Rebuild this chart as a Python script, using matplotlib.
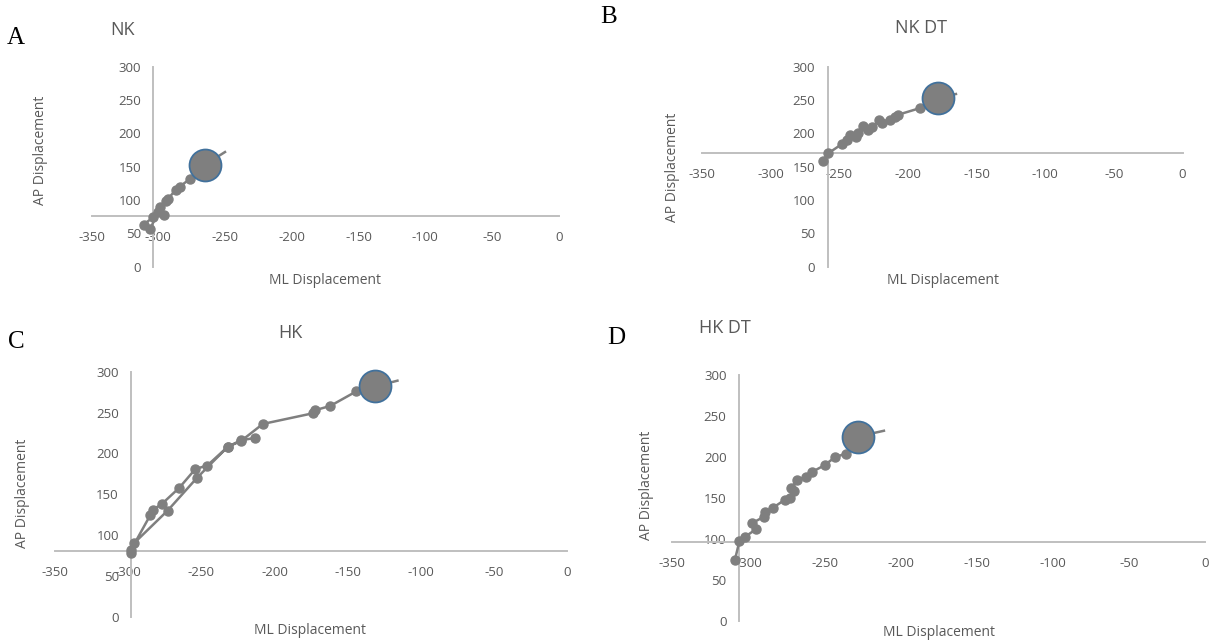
import matplotlib
matplotlib.use("Agg")
import matplotlib.pyplot as plt

plt.rcParams['font.family'] = ['Open Sans', 'DejaVu Sans']
plt.rcParams['axes.unicode_minus'] = False

# ---- data: ML / AP displacement traces
# big circle = second to last point, last point = end of the trace line
nk_ml = [-304, -311, -306, -300, -296, -299, -294, -293, -287, -284, -276, -265, -250]
nk_ap = [74, 63, 57, 82, 78, 90, 98, 101, 115, 120, 132, 153, 172]

nkdt_ml = [-262, -258, -248, -244, -242, -238, -236, -233, -229, -226, -221, -219,
           -213, -209, -207, -191, -178, -165]
nkdt_ap = [159, 170, 184, 190, 198, 195, 200, 211, 205, 209, 220, 215,
           220, 224, 228, 238, 253, 259]

hk_ml = [-213, -223, -232, -253, -273, -296, -298, -298, -285, -283, -277, -265,
         -254, -246, -232, -223, -208, -174, -172, -162, -144, -131, -116]
hk_ap = [219, 216, 208, 170, 130, 90, 78, 82, 124, 131, 138, 158,
         181, 185, 208, 215, 236, 249, 253, 258, 276, 282, 289]

hkdt_ml = [-309, -306, -302, -295, -298, -290, -289, -284, -276, -273, -270, -272,
           -268, -262, -258, -250, -243, -236, -228, -211]
hkdt_ap = [74, 97, 103, 112, 119, 127, 133, 138, 148, 150, 158, 162,
           172, 176, 182, 190, 200, 204, 225, 232]

x_ticks = [-350, -300, -250, -200, -150, -100, -50, 0]
y_ticks = [0, 50, 100, 150, 200, 250, 300]

W, H = 1214, 643
fig = plt.figure(figsize=(W / 100, H / 100), dpi=100)

def px(x, y):
    return x / W, 1 - y / H

# panel: letter, title, data, axes box in pixels (x0, x1, ytop, ybot),
# axis crossing (ml, ap), text positions in pixels
panels = [
    ("A", "NK", nk_ml, nk_ap, (91.5, 558.7, 66.7, 266.7), (-303.6, 76.5),
     (16, 38), (122, 30), (41, 150), (325, 280)),
    ("B", "NK DT", nkdt_ml, nkdt_ap, (701.8, 1182.6, 66.7, 266.7), (-258.4, 171),
     (609, 17), (921, 28), (672, 167), (943, 280)),
    ("C", "HK", hk_ml, hk_ap, (55, 567.2, 371.7, 616.7), (-297.8, 80.8),
     (16, 342), (290, 333), (23, 493), (310, 630)),
    ("D", "HK DT", hkdt_ml, hkdt_ap, (672.4, 1205, 375, 621), (-306.2, 96.7),
     (616, 338), (725, 328), (647, 485), (939, 633)),
]

grey = '#7f7f7f'
axis_col = '#bfbfbf'
text_col = '#595959'

for letter, title, ml, ap, box, cross, lpos, tpos, ylpos, xlpos in panels:
    x0, x1, yt, yb = box
    ax = fig.add_axes([x0 / W, 1 - yb / H, (x1 - x0) / W, (yb - yt) / H])
    ax.set_xlim(-350, 0)
    ax.set_ylim(0, 300)
    ax.patch.set_alpha(0)

    ax.spines['top'].set_visible(False)
    ax.spines['right'].set_visible(False)
    ax.spines['left'].set_position(('data', cross[0]))
    ax.spines['bottom'].set_position(('data', cross[1]))
    for s in ('left', 'bottom'):
        ax.spines[s].set_color(axis_col)
        ax.spines[s].set_linewidth(1.4)

    ax.set_xticks(x_ticks)
    ax.set_yticks(y_ticks)
    ax.set_xticklabels([str(v) for v in x_ticks])
    ax.set_yticklabels([str(v) for v in y_ticks])
    ax.tick_params(axis='x', length=0, pad=11, labelsize=9.5, labelcolor=text_col)
    ax.tick_params(axis='y', length=0, pad=9, labelsize=9.5, labelcolor=text_col)

    # trace with markers (end point without marker)
    ax.plot(ml, ap, color=grey, lw=1.8, marker='o', ms=6.5, mec=grey, mfc=grey,
            markevery=list(range(len(ml) - 1)), zorder=3, clip_on=False)
    # big circle
    ax.plot(ml[-2], ap[-2], marker='o', ms=23, mfc=grey, mec='#41719c', mew=1.3,
            zorder=4, clip_on=False)

    fig.text(*px(*lpos), letter, ha='center', va='center', fontsize=18,
             family='Liberation Serif', color='black')
    fig.text(*px(*tpos), title, ha='center', va='center', fontsize=13, color=text_col)
    fig.text(*px(*ylpos), 'AP Displacement', ha='center', va='center', rotation=90,
             fontsize=10, color=text_col)
    fig.text(*px(*xlpos), 'ML Displacement', ha='center', va='center',
             fontsize=10, color=text_col)

fig.savefig('out.png', dpi=100)
